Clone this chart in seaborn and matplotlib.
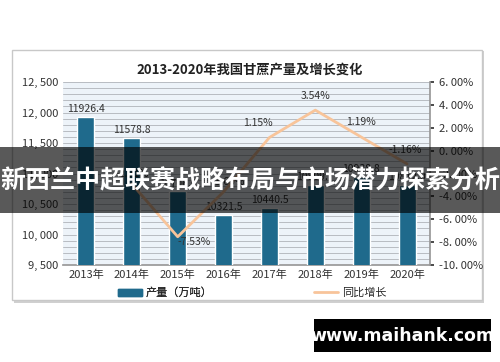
import numpy as np
import pandas as pd
import seaborn as sns
import matplotlib.pyplot as plt
from matplotlib.patches import Rectangle
from matplotlib.lines import Line2D
from matplotlib.patches import Patch

years = ['2013年', '2014年', '2015年', '2016年', '2017年', '2018年', '2019年', '2020年']
output = [11926.4, 11578.8, 10706.9, 10321.5, 10440.5, 10809.7, 10938.8, 10812.0]
growth_years = ['2014年', '2015年', '2016年', '2017年', '2018年', '2019年', '2020年']
growth = [-2.91, -7.53, -3.60, 1.15, 3.54, 1.19, -1.16]
left_ticks = [9500, 10000, 10500, 11000, 11500, 12000, 12500]
right_ticks = [-10, -8, -6, -4, -2, 0, 2, 4, 6]

sns.set_theme(style='white')
plt.rcParams['font.family'] = ['Noto Sans CJK SC', 'DejaVu Sans']

bar_color = '#1f6a8c'
line_color = '#f8c49a'

fig = plt.figure(figsize=(5, 3.62), dpi=100)

# card with shadow
fig.patches.append(Rectangle((14 / 500, 1 - 303 / 362), 470 / 500, 252 / 362,
                             transform=fig.transFigure, facecolor='#d0d0d0',
                             edgecolor='none', zorder=-2))
fig.patches.append(Rectangle((12 / 500, 1 - 300 / 362), 470 / 500, 250 / 362,
                             transform=fig.transFigure, facecolor='white',
                             edgecolor='#c8c8c8', linewidth=1, zorder=-1))

ax = fig.add_axes([63 / 500, 1 - 265 / 362, 367 / 500, 183 / 362])
ax.set_zorder(1)
ax.set_facecolor('#edf3f9')
df = pd.DataFrame({'year': years, 'output': output})
sns.barplot(data=df, x='year', y='output', color=bar_color, width=0.37,
            saturation=1, ax=ax, zorder=3)
ax.set_ylim(9500, 12500)
ax.set_yticks(left_ticks)
ax.set_yticklabels([f'{v // 1000}, {v % 1000:03d}' for v in left_ticks])
ax.set_yticks(np.arange(9500, 12501, 100), minor=True)
ax.grid(axis='y', which='both', color='#b8bcc2', linewidth=0.7, zorder=0)
ax.set_axisbelow(True)
ax.set_xlabel('')
ax.set_ylabel('')
ax.tick_params(axis='both', labelsize=8, colors='#333333', length=0, which='both')
for s in ['top', 'left', 'right']:
    ax.spines[s].set_visible(False)
ax.spines['bottom'].set_color('#999999')
for i, v in enumerate(output):
    ax.text(i, v + 45, f'{v:.1f}', ha='center', va='bottom', fontsize=7.5,
            color='#333333', zorder=4)

ax2 = ax.twinx()
ax2.set_zorder(1.5)
gx = [years.index(y) for y in growth_years]
sns.lineplot(x=gx, y=growth, color=line_color, linewidth=2, ax=ax2, zorder=5)
ax2.set_ylim(-10, 6)
ax2.set_yticks(right_ticks)
ax2.set_yticklabels([f'{v:.2f}%'.replace('.', '. ') for v in right_ticks])
ax2.tick_params(axis='y', labelsize=8, colors='#333333', length=3, direction='out')
for s in ['top', 'left', 'bottom']:
    ax2.spines[s].set_visible(False)
ax2.spines['right'].set_color('#999999')
offsets = {-2.91: (0, 0.9), -7.53: (0.35, -0.5), -3.60: (0.1, 0.9),
           1.15: (-0.25, 1.3), 3.54: (0, 1.2), 1.19: (0, 1.3), -1.16: (-0.05, 1.2)}
for x, v in zip(gx, growth):
    dx, dy = offsets[v]
    ax2.text(x + dx, v + dy, f'{v:.2f}%', ha='center', va='center', fontsize=7.5,
             color='#333333', zorder=6)
ax2.set_xlim(-0.5, 7.5)

fig.text(250 / 500, 1 - 69 / 362, '2013-2020年我国甘蔗产量及增长变化', ha='center',
         va='center', fontsize=9.5, fontweight='bold', color='#222222')

leg1 = fig.legend(handles=[Patch(color=bar_color, label='产量（万吨）')],
                  loc='center', bbox_to_anchor=(165 / 500, 1 - 293 / 362),
                  frameon=False, fontsize=8, handlelength=2.2, handleheight=0.5,
                  handletextpad=0.3)
fig.legend(handles=[Line2D([], [], color=line_color, linewidth=2, label='同比增长')],
           loc='center', bbox_to_anchor=(350 / 500, 1 - 293 / 362),
           frameon=False, fontsize=8, handlelength=2.2, handletextpad=0.3)
fig.add_artist(leg1)

# overlay banner
fig.patches.append(Rectangle((0, 1 - 213 / 362), 1, 66 / 362, transform=fig.transFigure,
                             facecolor='black', alpha=0.65, edgecolor='none', zorder=10))
fig.text(0.5, 1 - 181 / 362, '新西兰中超联赛战略布局与市场潜力探索分析', ha='center',
         va='center', fontsize=18, fontweight='bold', color='white', zorder=11)

# watermark
fig.patches.append(Rectangle((314 / 500, 1 - 352 / 362), 177 / 500, 33 / 362,
                             transform=fig.transFigure, facecolor='black',
                             edgecolor='none', zorder=10))
fig.text(402 / 500, 1 - 336 / 362, 'www.maihank.com', ha='center', va='center',
         fontsize=12.5, fontweight='bold', color='white', family='DejaVu Sans', zorder=11)

fig.savefig('out.png', dpi=100)
